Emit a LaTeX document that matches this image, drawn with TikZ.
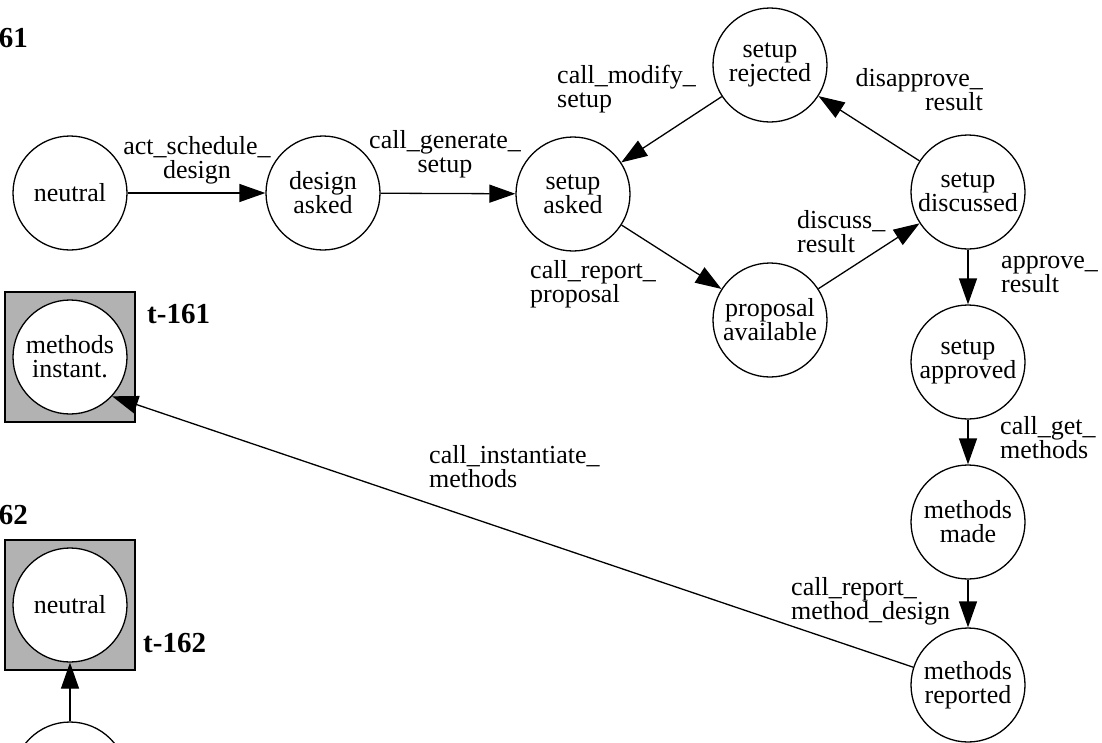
\documentclass[tikz,border=0pt]{standalone}
\usepackage{fontspec}
\setmainfont{Liberation Serif}
\usetikzlibrary{arrows.meta, positioning}
\newcommand{\statefont}{\fontsize{26}{24}\selectfont}
\newcommand{\tagfont}{\fontsize{29}{30}\selectfont\bfseries}

\begin{document}
\begin{tikzpicture}[
    x=1pt, y=-1pt,
    state/.style={circle, draw=black, fill=white, line width=1.3pt, minimum size=114pt, inner sep=0pt, align=center, font=\statefont},
    final/.style={rectangle, draw=black, fill=black!30, line width=1.1pt, minimum size=130pt, inner sep=0pt},
    lbl/.style={inner sep=0pt, align=left, font=\statefont},
    tag/.style={inner sep=0pt, font=\tagfont},
    arrow/.style={-{Triangle[length=26pt, width=18pt]}, line width=1.3pt},
]
\clip (0,0) rectangle (1102,742);

% Nodes
\node[final] (box1) at (70,357) {};
\node[final] (box2) at (70,605) {};
\node[state] (neutral) at (70,193) {neutral};
\node[state] (design) at (323,193) {design\\asked};
\node[state] (asked) at (573,194) {setup\\asked};
\node[state] (rejected) at (770,65) {setup\\rejected};
\node[state] (proposal) at (770,320) {proposal\\available};
\node[state] (discussed) at (968,192) {setup\\discussed};
\node[state] (approved) at (968,362) {setup\\approved};
\node[state] (made) at (968,522) {methods\\made};
\node[state] (reported) at (968,685) {methods\\reported};
\node[state] (instant) at (70,357) {methods\\instant.};
\node[state] (neutral2) at (70,605) {neutral};
\node[state] (below) at (70,779) {};

% Tags
\node[tag, anchor=east] (tagA) at (28,38) {61};
\node[tag, anchor=west] (tagB) at (147,314) {t-161};
\node[tag, anchor=east] (tagC) at (28,515) {62};
\node[tag, anchor=west] (tagD) at (143,643) {t-162};

% Arrows
\draw[arrow] (neutral) -- (design);
\draw[arrow] (design) -- (asked);
\draw[arrow] (rejected) -- (asked);
\draw[arrow] (asked) -- (proposal);
\draw[arrow] (proposal) -- (discussed);
\draw[arrow] (discussed) -- (rejected);
\draw[arrow] (discussed) -- (approved);
\draw[arrow] (approved) -- (made);
\draw[arrow] (made) -- (reported);
\draw[arrow] (reported.162) -- (instant.-43);
\draw[arrow] (below) -- (neutral2);

% Labels
\node[lbl, align=center] (l1) at (197,160) {act\_schedule\_\\design};
\node[lbl, align=center] (l2) at (445,154) {call\_generate\_\\setup};
\node[lbl, anchor=west] (l3) at (557,89) {call\_modify\_\\setup};
\node[lbl, anchor=east, align=right] (l4) at (983,90) {disapprove\_\\result};
\node[lbl, anchor=west] (l5) at (797,232) {discuss\_\\result};
\node[lbl, anchor=west] (l6) at (530,284) {call\_report\_\\proposal};
\node[lbl, anchor=west] (l7) at (1001,274) {approve\_\\result};
\node[lbl, anchor=west] (l8) at (1000,438) {call\_get\_\\methods};
\node[lbl, anchor=west] (l9) at (791,601) {call\_report\_\\method\_design};
\node[lbl, anchor=west] (l10) at (429,467) {call\_instantiate\_\\methods};

\end{tikzpicture}
\end{document}
